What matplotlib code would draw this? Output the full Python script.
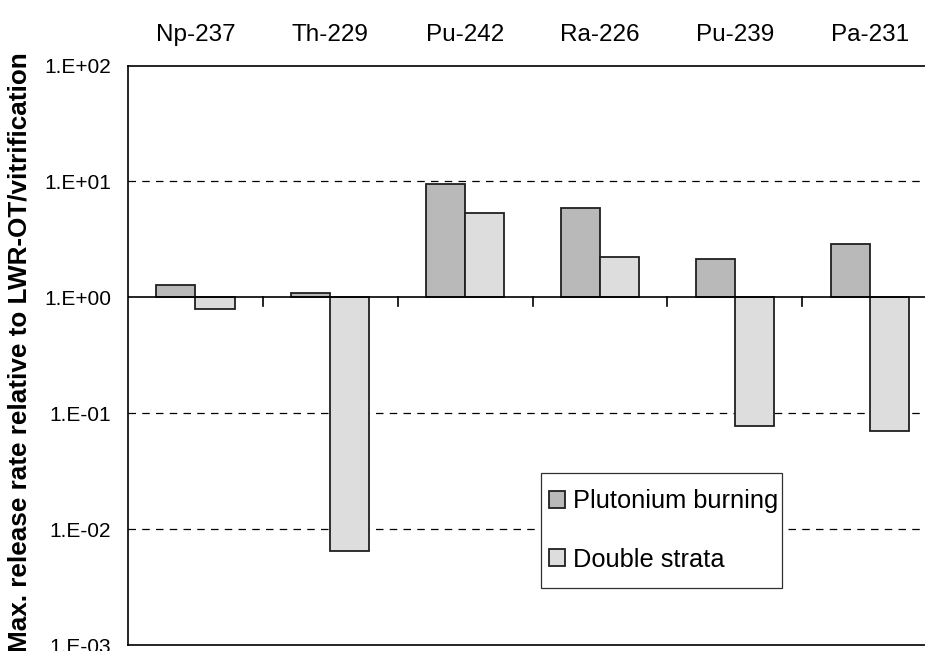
import matplotlib
matplotlib.use('Agg')
matplotlib.rcParams['font.family'] = 'Liberation Sans'
import matplotlib.pyplot as plt
from matplotlib.patches import Rectangle
import numpy as np

# Data (ratio relative to LWR-OT/vitrification)
nuclides = ['Np-237', 'Th-229', 'Pu-242', 'Ra-226', 'Pu-239', 'Pa-231']
plutonium_burning = [1.28, 1.09, 9.6, 5.9, 2.14, 2.9]
double_strata = [0.80, 0.0065, 5.3, 2.24, 0.078, 0.070]
ytick_vals = [1e-3, 1e-2, 1e-1, 1e0, 1e1, 1e2]
ytick_labels = ['1.E-03', '1.E-02', '1.E-01', '1.E+00', '1.E+01', '1.E+02']

fig = plt.figure(figsize=(9.25, 6.51), dpi=100)
ax = fig.add_axes([0.1384, 0.0092, 0.8746, 0.890])

x = np.arange(len(nuclides))
w = 0.29
pb = np.array(plutonium_burning)
ds = np.array(double_strata)

# bars grow from 1.0 (up or down on log axis)
ax.bar(x - w / 2, pb - 1, bottom=1, width=w, color='#b9b9b9', edgecolor='#202020',
       linewidth=1.3, label='Plutonium burning', zorder=3)
ax.bar(x + w / 2, ds - 1, bottom=1, width=w, color='#dddddd', edgecolor='#202020',
       linewidth=1.3, label='Double strata', zorder=3)

ax.set_yscale('log')
ax.set_ylim(1e-3, 1e2)
ax.set_xlim(-0.5, len(nuclides) - 0.5)

# dashed gridlines, solid baseline at 1
for v in [1e-2, 1e-1, 1e1]:
    ax.axhline(v, color='black', linestyle=(0, (6, 5)), linewidth=0.9, zorder=1)
ax.axhline(1, color='black', linewidth=1.2, zorder=4)
# category separators at the baseline
for b in x[1:] - 0.5:
    ax.plot([b, b], [1, 10 ** (-9 / 115.9)], color='black', linewidth=1.2,
            zorder=4, clip_on=False)

ax.set_yticks(ytick_vals)
ax.set_yticklabels(ytick_labels, fontsize=15)
ax.yaxis.set_minor_locator(matplotlib.ticker.NullLocator())
ax.tick_params(axis='y', length=0, pad=12)

ax.xaxis.tick_top()
ax.set_xticks(x)
ax.set_xticklabels(nuclides, fontsize=17.5)
ax.tick_params(axis='x', length=0, pad=14)

ax.set_ylabel('Max. release rate relative to LWR-OT/vitrification',
              fontsize=18.8, fontweight='bold')
ax.yaxis.set_label_coords(-0.1187, 0.505)

for s in ['left', 'top', 'bottom']:
    ax.spines[s].set_linewidth(1.2)
ax.spines['right'].set_visible(False)

# legend box drawn separately so the vertical padding matches
ax.add_patch(Rectangle((0.5105, 0.098), 0.2975, 0.199, transform=ax.transAxes,
                       facecolor='white', edgecolor='#303030', linewidth=0.9,
                       zorder=5))
leg = ax.legend(loc='center left', bbox_to_anchor=(0.5105, 0.1975), fontsize=18.3,
                frameon=False, handlelength=0.65, handleheight=0.65,
                handletextpad=0.3, labelspacing=1.35, borderpad=0.3,
                borderaxespad=0)
leg.set_zorder(6)

fig.savefig('out.png', dpi=100)
